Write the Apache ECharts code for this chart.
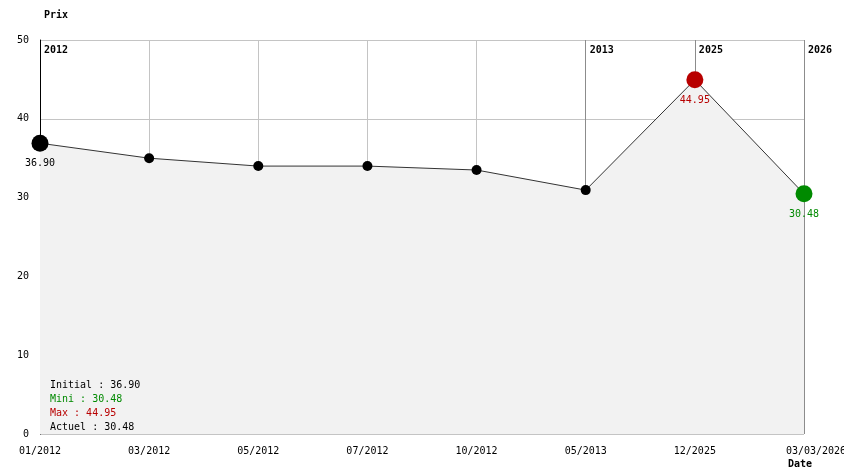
<!DOCTYPE html>
<html>
<head>
<meta charset="utf-8">
<script src="https://cdn.jsdelivr.net/npm/echarts@6/dist/echarts.min.js"></script>
<style>html,body{margin:0;padding:0;background:#fff}#c{width:844px;height:474px}</style>
</head>
<body>
<div id="c"></div>
<script>
const dates = ['01/2012', '03/2012', '05/2012', '07/2012', '10/2012', '05/2013', '12/2025', '03/03/2026']
const prices = [36.90, 35.0, 34.0, 34.0, 33.5, 30.95, 44.95, 30.48]
const yearLabels = ['2012', '', '', '', '', '2013', '2025', '2026']
const yTicks = [0, 10, 20, 30, 40, 50]
const summary = [['Initial', '36.90'], ['Mini', '30.48'], ['Max', '44.95'], ['Actuel', '30.48']]

const mono = 'DejaVu Sans Mono'
const red = '#b80000', green = '#008a00'
const iMax = prices.indexOf(Math.max(...prices))
const iLast = prices.length - 1

const points = prices.map((v, i) => {
  let color = '#000', size = 10, label = false
  if (i === 0) { size = 17; label = true }
  if (i === iMax) { color = red; size = 17; label = true }
  if (i === iLast) { color = green; size = 17; label = true }
  return {
    value: v, symbolSize: size, itemStyle: { color },
    label: { show: label, color, position: 'bottom', distance: 7, fontFamily: mono, fontSize: 10, formatter: (p) => p.value.toFixed(2) },
  }
})

const sumColors = ['#000', green, red, '#000']
const sumText = summary.map((s, i) => '{c' + i + '|' + s[0] + ' : ' + s[1] + '}').join('\n')
const sumRich = {}
sumColors.forEach((c, i) => { sumRich['c' + i] = { color: c, fontFamily: mono, fontSize: 10, fontWeight: 'normal', lineHeight: 14 } })

const chart = echarts.init(document.getElementById('c'), null, { renderer: 'canvas' })
chart.setOption({
  animation: false,
  textStyle: { fontFamily: mono },
  grid: { left: 40, right: 40, top: 40, bottom: 40, containLabel: false, outerBoundsMode: 'none' },
  title: [
    { text: 'Prix', left: 39, top: 5, textStyle: { fontFamily: mono, fontSize: 10, fontWeight: 'bold', color: '#000' } },
    { text: 'Date', left: 783, top: 454, textStyle: { fontFamily: mono, fontSize: 10, fontWeight: 'bold', color: '#000' } },
    { text: sumText, left: 45, top: 373, textStyle: { fontWeight: 'normal', rich: sumRich } },
  ],
  xAxis: [
    {
      type: 'category', data: dates, boundaryGap: false, position: 'bottom',
      axisLine: { show: false }, axisTick: { show: false },
      axisLabel: {
        interval: 0, margin: 12, color: '#000', fontFamily: mono, fontSize: 10,
        formatter: (v, i) => i === iLast ? '{last|' + v + '}' : v,
        rich: { last: { padding: [0, 0, 0, 24], fontFamily: mono, fontSize: 10, color: '#000' } },
      },
      splitLine: { show: true, interval: (i) => yearLabels[i] === '', lineStyle: { color: '#c4c4c4', width: 1 } },
    },
    {
      type: 'category', data: dates, boundaryGap: false, position: 'top',
      axisLine: { show: false }, axisTick: { show: false },
      axisLabel: {
        inside: true, interval: 0, margin: 5, align: 'left', verticalAlign: 'top', padding: [0, 0, 0, 4],
        color: '#000', fontFamily: mono, fontSize: 10, fontWeight: 'bold',
        formatter: (v, i) => yearLabels[i],
      },
      splitLine: { show: true, interval: (i) => i > 0 && yearLabels[i] !== '', lineStyle: { color: '#8c8c8c', width: 1 } },
    },
  ],
  yAxis: {
    type: 'value', min: yTicks[0], max: yTicks[yTicks.length - 1], interval: 10,
    axisLine: { show: true, lineStyle: { color: '#000', width: 1 } }, axisTick: { show: false },
    axisLabel: { margin: 11, color: '#000', fontFamily: mono, fontSize: 10, padding: [3, 0, 0, 0] },
    splitLine: { show: true, lineStyle: { color: '#c4c4c4', width: 1 } },
  },
  series: [{
    type: 'line', data: points, symbol: 'circle', xAxisIndex: 0,
    lineStyle: { color: '#333', width: 1 },
    areaStyle: { color: '#f2f2f2', opacity: 1 },
  }],
})
</script>
</body>
</html>
